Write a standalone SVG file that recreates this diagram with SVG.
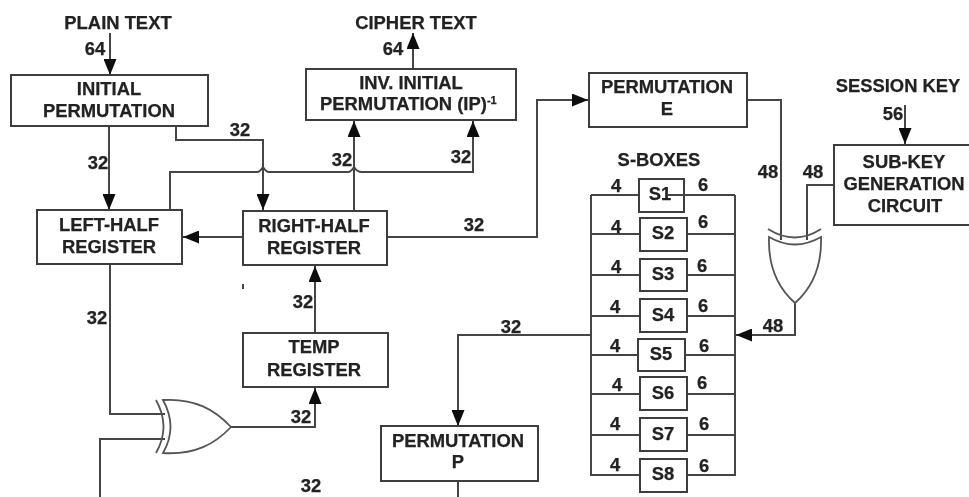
<svg xmlns="http://www.w3.org/2000/svg" width="969" height="497" viewBox="0 0 969 497">
<defs>
<marker id="arrow" markerUnits="userSpaceOnUse" markerWidth="17" markerHeight="13" refX="16" refY="6.5" orient="auto"><path d="M0 0L16 6.5L0 13Z" fill="#111"/></marker>
<filter id="soft" x="-2%" y="-2%" width="104%" height="104%"><feGaussianBlur stdDeviation="0.5"/></filter>
</defs>
<style>
.box{fill:#fff;stroke:#3c3c3c;stroke-width:2}
.line{fill:none;stroke:#444;stroke-width:2}
.gate{fill:#fff;stroke:#555;stroke-width:1.8}
text{font-family:"Liberation Sans",Arial,sans-serif;font-weight:bold;font-size:18.4px;fill:#222;stroke:#222;stroke-width:0.25;text-anchor:middle}
</style>
<rect width="969" height="497" fill="#fff"/>
<g filter="url(#soft)">
<g id="connectors">
<path class="line" marker-end="url(#arrow)" d="M110 33V75"/>
<path class="line" marker-end="url(#arrow)" d="M413 69V33"/>
<path class="line" marker-end="url(#arrow)" d="M109 126V210"/>
<path class="line" marker-end="url(#arrow)" d="M176 126V140H263V210"/>
<path class="line" marker-end="url(#arrow)" d="M170 210V172H257Q260 172 263 167Q266 172 269 172H348Q351 172 354 167Q357 172 362 172H473V121"/>
<path class="line" marker-end="url(#arrow)" d="M354 211V121"/>
<path class="line" marker-end="url(#arrow)" d="M243 237H183"/>
<path class="line" marker-end="url(#arrow)" d="M387 237H537V100H588"/>
<path class="line" d="M747 100H781V240"/>
<path class="line" marker-end="url(#arrow)" d="M905 105V144"/>
<path class="line" d="M834 185H807V240"/>
<path class="line" marker-end="url(#arrow)" d="M795 303V335H736"/>
<path class="line" d="M110 264V414H165"/>
<path class="line" d="M100 497V439H165"/>
<path class="line" marker-end="url(#arrow)" d="M231 427H315V388"/>
<path class="line" marker-end="url(#arrow)" d="M315 333V266"/>
<path class="line" marker-end="url(#arrow)" d="M591 335H458V426"/>
<path class="line" d="M458 481V497"/>
<path class="line" d="M591 195V475H640M735 195V475H687"/>
<path class="line" d="M591 195H640M591 234H640M591 275H640M591 316H640M591 355H638M591 394H640M591 435H640"/>
<path class="line" d="M687 234H735M687 275H735M687 316H735M685 355H735M687 394H735M687 435H735"/>
<path class="line" d="M243 284V289" stroke-width="1"/>
</g>
<g id="initial-permutation"><rect class="box" x="11" y="75" width="197" height="51"/><text x="109" y="95">INITIAL</text><text x="109" y="117">PERMUTATION</text></g>
<g id="inverse-permutation"><rect class="box" x="306" y="69" width="210" height="51"/><text x="411" y="89">INV. INITIAL</text><text x="320" y="110" style="text-anchor:start">PERMUTATION (IP)<tspan font-size="11" dy="-6">-1</tspan></text></g>
<g id="left-half"><rect class="box" x="37" y="210" width="145" height="54"/><text x="109" y="231">LEFT-HALF</text><text x="109" y="253">REGISTER</text></g>
<g id="right-half"><rect class="box" x="243" y="211" width="144" height="54"/><text x="314" y="232">RIGHT-HALF</text><text x="314" y="254">REGISTER</text></g>
<g id="temp-register"><rect class="box" x="243" y="333" width="145" height="54"/><text x="314" y="353">TEMP</text><text x="314" y="376">REGISTER</text></g>
<g id="permutation-p"><rect class="box" x="381" y="426" width="157" height="55"/><text x="458" y="447">PERMUTATION</text><text x="458" y="468">P</text></g>
<g id="permutation-e"><rect class="box" x="589" y="73" width="158" height="54"/><text x="667" y="93">PERMUTATION</text><text x="667" y="115">E</text></g>
<g id="sub-key"><rect class="box" x="834" y="145" width="140" height="80"/><text x="904" y="168">SUB-KEY</text><text x="904" y="190">GENERATION</text><text x="905" y="212">CIRCUIT</text></g>
<g id="s1"><rect class="box" x="639" y="179" width="45" height="33"/><text x="660" y="200">S1</text><path class="line" d="M668 195H735"/></g>
<g id="s2"><rect class="box" x="640" y="218" width="47" height="33"/><text x="663" y="239">S2</text></g>
<g id="s3"><rect class="box" x="640" y="259" width="47" height="32"/><text x="663" y="280">S3</text></g>
<g id="s4"><rect class="box" x="640" y="299" width="47" height="33"/><text x="663" y="321">S4</text></g>
<g id="s5"><rect class="box" x="638" y="339" width="47" height="32"/><text x="661" y="360">S5</text></g>
<g id="s6"><rect class="box" x="640" y="377" width="47" height="33"/><text x="663" y="399">S6</text></g>
<g id="s7"><rect class="box" x="640" y="418" width="47" height="33"/><text x="663" y="440">S7</text></g>
<g id="s8"><rect class="box" x="640" y="459" width="47" height="33"/><text x="663" y="480">S8</text></g>
<g id="xor-key">
<path class="gate" d="M769 237Q795 252 821 237C822 268 812 288 795 303C778 288 768 268 769 237Z"/>
<path class="gate" style="fill:none" d="M768 229Q795 246 821 229"/>
</g>
<g id="xor-data">
<path class="gate" d="M163 400C195 398 215 410 231 427C215 444 195 455 163 453Q178 427 163 400Z"/>
<path class="gate" style="fill:none" d="M156 400Q171 427 156 453"/>
</g>
<g id="labels">
<text x="118" y="29">PLAIN TEXT</text><text x="95" y="55">64</text>
<text x="416" y="29">CIPHER TEXT</text><text x="393" y="55">64</text>
<text x="240" y="136">32</text><text x="98" y="169">32</text><text x="342" y="166">32</text><text x="461" y="163">32</text>
<text x="474" y="231">32</text><text x="97" y="324">32</text><text x="303" y="308">32</text><text x="301" y="423">32</text>
<text x="511" y="333">32</text><text x="311" y="492">32</text>
<text x="898" y="92">SESSION KEY</text><text x="893" y="120">56</text>
<text x="659" y="166">S-BOXES</text><text x="768" y="178">48</text><text x="813" y="178">48</text><text x="773" y="332">48</text>
<text x="616" y="192">4</text><text x="616" y="233">4</text><text x="616" y="273">4</text><text x="615" y="313">4</text>
<text x="615" y="352">4</text><text x="617" y="391">4</text><text x="615" y="430">4</text><text x="615" y="471">4</text>
<text x="703" y="191">6</text><text x="703" y="228">6</text><text x="702" y="272">6</text><text x="703" y="312">6</text>
<text x="704" y="352">6</text><text x="702" y="389">6</text><text x="704" y="430">6</text><text x="704" y="472">6</text>
</g>
</g>
</svg>
